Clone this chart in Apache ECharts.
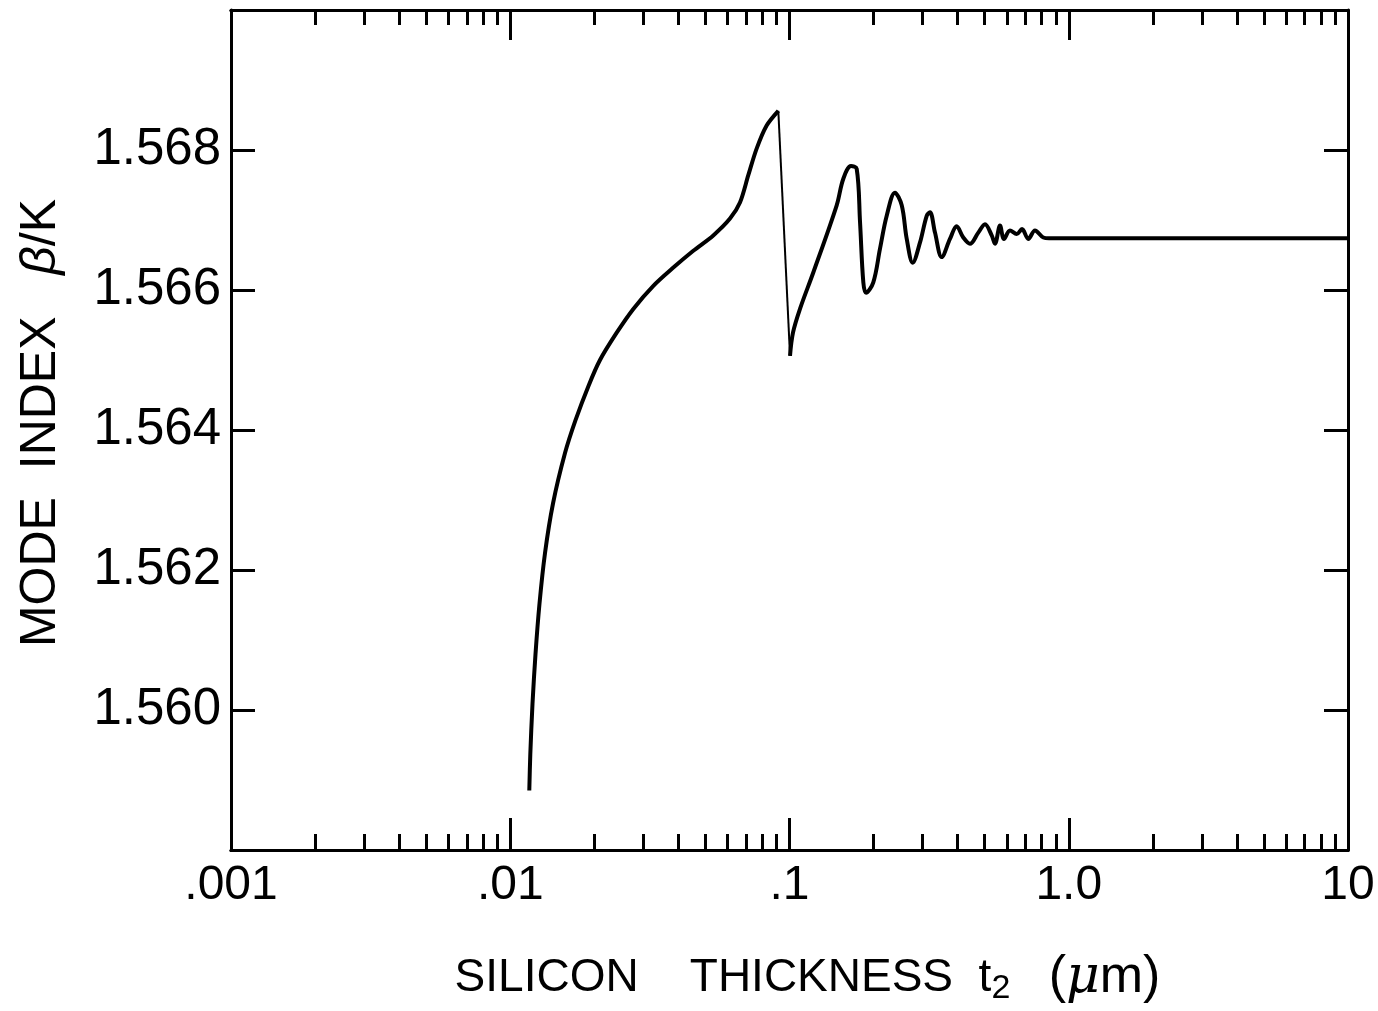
<!DOCTYPE html>
<html><head><meta charset="utf-8">
<script src="https://cdn.jsdelivr.net/npm/echarts@6/dist/echarts.min.js"></script>
<style>html,body{margin:0;padding:0;background:#fff;}#c{width:1378px;height:1011px;}</style>
</head><body><div id="c"></div>
<script>
// Rising branch (up to the sharp peak near 0.09 um)
const thicknessRise = [0.011701,0.011798,0.012014,0.012315,0.012727,0.013317,0.014227,0.015707,0.017129,0.019063,0.020961,0.024055,0.02759,0.03254,0.03837,0.04524,0.05335,0.06123,0.06648,0.07120,0.07626,0.08283,0.09119];
const indexRise = [1.55885,1.55937,1.56009,1.56080,1.56152,1.56224,1.56295,1.56367,1.56414,1.56463,1.56500,1.56539,1.56573,1.56606,1.56632,1.56656,1.56678,1.56702,1.56725,1.56764,1.56802,1.56835,1.56856];
// Oscillating branch (from the trough at 0.1 um to 10 um)
const thicknessOsc = [0.10042,0.10292,0.10904,0.12167,0.14757,0.15586,0.16608,0.17405,0.17889,0.18382,0.18793,0.19957,0.21093,0.22291,0.23857,0.25228,0.26291,0.27625,0.29336,0.31000,0.31841,0.33189,0.35075,0.37550,0.39684,0.41907,0.44288,0.47434,0.50130,0.52974,0.54432,0.56723,0.58623,0.61601,0.65103,0.68016,0.71629,0.75699,0.81084,0.84997,1.0,3.0,10];
const indexOsc = [1.56506,1.56539,1.56573,1.56625,1.56721,1.56759,1.56777,1.56773,1.56697,1.56611,1.56596,1.56611,1.56659,1.56706,1.56739,1.56721,1.56673,1.56639,1.56668,1.56706,1.56711,1.56682,1.56647,1.56673,1.56691,1.56675,1.56666,1.56682,1.56694,1.56678,1.56666,1.56692,1.56673,1.56685,1.56680,1.56687,1.56673,1.56685,1.56675,1.56674,1.56674,1.56674,1.56674];

const majorTicks = [0.001,0.01,0.1,1,10];
const majorTickLabels = ['.001','.01','.1','1.0','10'];
const minorTicks = [0.002,0.003,0.004,0.005,0.006,0.007,0.008,0.009,
                    0.02,0.03,0.04,0.05,0.06,0.07,0.08,0.09,
                    0.2,0.3,0.4,0.5,0.6,0.7,0.8,0.9,
                    2,3,4,5,6,7,8,9];
const yTicks = [1.560,1.562,1.564,1.566,1.568];

const riseData = thicknessRise.map((t,i)=>[t,indexRise[i]]);
const oscData = thicknessOsc.map((t,i)=>[t,indexOsc[i]]);
const dropData = [riseData[riseData.length-1], oscData[0]];

const FONT = 'Liberation Sans';
const BLACK = '#000';

function xAxisDef(pos, ticks, len, withLabels) {
  const ax = {
    type:'log', logBase:10, min:0.001, max:10, position:pos, gridIndex:0,
    axisLine:{show:true, lineStyle:{color:BLACK, width:3}},
    axisTick:{show:true, inside:true, length:len, customValues:ticks, lineStyle:{color:BLACK, width:3}},
    axisLabel:{show:false},
    splitLine:{show:false}, minorTick:{show:false}, minorSplitLine:{show:false}
  };
  if (withLabels) {
    ax.axisLabel = {
      show:true, customValues:majorTicks, margin:12, color:BLACK, fontSize:48, fontFamily:FONT,
      formatter:(v)=>{ const i = majorTicks.findIndex(m=>Math.abs(Math.log10(m)-Math.log10(v))<1e-6); return i>=0?majorTickLabels[i]:''; }
    };
    ax.name = 'SILICON    THICKNESS  t{sub|2}   {big|(}{mu|μ}{big|m)}';
    ax.nameLocation = 'middle';
    ax.nameGap = 100;
    ax.nameTextStyle = {
      color:BLACK, fontSize:46, fontFamily:FONT, padding:[0,0,0,36],
      rich:{
        sub:{fontSize:34, fontFamily:FONT, color:BLACK, padding:[22,0,0,0], verticalAlign:'bottom'},
        big:{fontSize:52, fontFamily:FONT, color:BLACK},
        mu:{fontSize:52, fontFamily:'DejaVu Serif', fontStyle:'italic', color:BLACK}
      }
    };
  }
  return ax;
}

function yAxisDef(pos, withLabels) {
  const ax = {
    type:'value', min:1.558, max:1.570, interval:0.002, position:pos, gridIndex:0,
    axisLine:{show:true, lineStyle:{color:BLACK, width:3}},
    axisTick:{show:true, inside:true, length:24, customValues:yTicks, lineStyle:{color:BLACK, width:3}},
    axisLabel:{show:false},
    splitLine:{show:false}
  };
  if (withLabels) {
    ax.axisLabel = {show:true, customValues:yTicks, margin:10, color:BLACK, fontSize:51, fontFamily:FONT,
      formatter:(v)=>v.toFixed(3)};
    ax.name = 'MODE  INDEX   {it|β}/K';
    ax.nameLocation = 'middle';
    ax.nameRotate = 90;
    ax.nameGap = 165;
    ax.nameTextStyle = {color:BLACK, fontSize:50, fontFamily:FONT, padding:[0,0,0,14],
      rich:{it:{fontSize:50, fontFamily:FONT, fontStyle:'italic', color:BLACK}}};
  }
  return ax;
}

const chart = echarts.init(document.getElementById('c'), null, {renderer:'canvas'});
chart.setOption({
  backgroundColor:'#fff',
  animation:false,
  grid:{left:231, right:30, top:10, bottom:157, containLabel:false},
  xAxis:[
    xAxisDef('bottom', majorTicks, 32, true),
    xAxisDef('bottom', minorTicks, 16, false),
    xAxisDef('top', majorTicks, 30, false),
    xAxisDef('top', minorTicks, 15, false)
  ],
  yAxis:[ yAxisDef('left', true), yAxisDef('right', false) ],
  series:[
    {type:'line', xAxisIndex:0, yAxisIndex:0, data:riseData, showSymbol:false, smooth:0.3,
     lineStyle:{color:BLACK, width:4}},
    {type:'line', xAxisIndex:0, yAxisIndex:0, data:dropData, showSymbol:false,
     lineStyle:{color:BLACK, width:2}},
    {type:'line', xAxisIndex:0, yAxisIndex:0, data:oscData, showSymbol:false, smooth:0.35,
     lineStyle:{color:BLACK, width:4}}
  ]
});
</script>
</body></html>
